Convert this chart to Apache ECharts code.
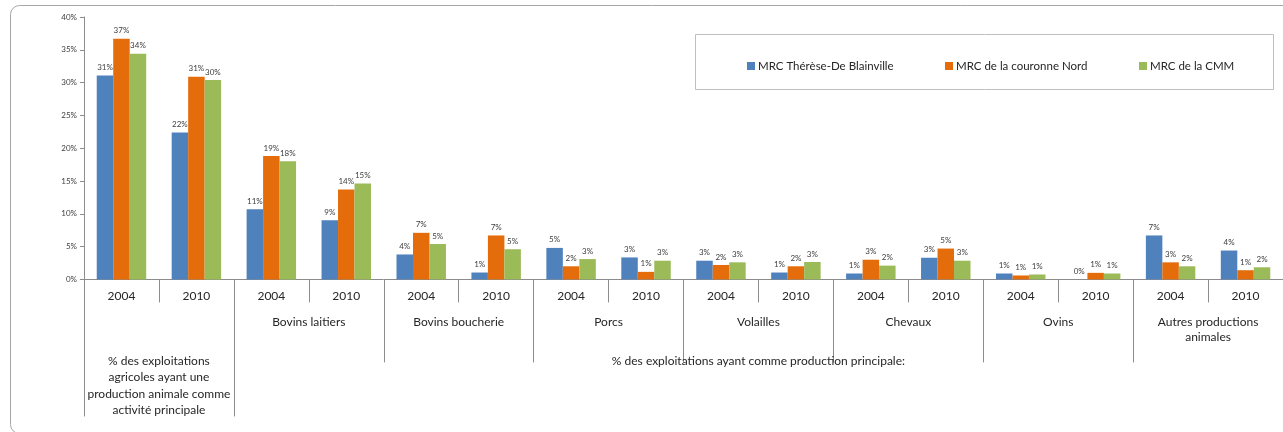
<!DOCTYPE html>
<html>
<head>
<meta charset="utf-8">
<script src="https://cdn.jsdelivr.net/npm/echarts@6/dist/echarts.min.js"></script>
<style>
html,body{margin:0;padding:0;background:#fff;}
#chart{width:1283px;height:432px;}
</style>
</head>
<body>
<div id="chart"></div>
<script>
const years = ['2004','2010','2004','2010','2004','2010','2004','2010','2004','2010','2004','2010','2004','2010','2004','2010'];
const groups = ['', 'Bovins laitiers', 'Bovins boucherie', 'Porcs', 'Volailles', 'Chevaux', 'Ovins', 'Autres productions\nanimales'];
const tier3Label1 = '% des exploitations\nagricoles ayant une\nproduction animale comme\nactivité principale';
const tier3Label2 = '% des exploitations ayant comme production principale:';
const seriesNames = ['MRC Thérèse-De Blainville', 'MRC de la couronne Nord', 'MRC de la CMM'];
const therese  = [31.1, 22.4, 10.7, 9.0, 3.8, 1.05, 4.8, 3.35, 2.85, 1.05, 0.9, 3.3, 0.9, 0, 6.7, 4.4];
const couronne = [36.7, 30.9, 18.8, 13.7, 7.1, 6.7, 2.0, 1.15, 2.2, 2.0, 3.0, 4.7, 0.6, 1.0, 2.6, 1.4];
const cmm      = [34.4, 30.4, 18.0, 14.6, 5.4, 4.6, 3.1, 2.85, 2.6, 2.65, 2.1, 2.85, 0.75, 0.9, 2.0, 1.85];
const yTicks = [0, 5, 10, 15, 20, 25, 30, 35, 40];

const colors = ['#4F81BD', '#E46C0A', '#9BBB59'];
const FONT = 'Lato';
const TXT = '#262626';
const GRID_LINE = '#8c8c8c';

const chart = echarts.init(document.getElementById('chart'), null, {renderer: 'canvas'});

function mkSeries(name, data, color) {
  return {
    name: name, type: 'bar', data: data, xAxisIndex: 0, yAxisIndex: 0,
    barGap: '0%', barCategoryGap: '34%',
    itemStyle: {color: color},
    label: {
      show: true, position: 'top', distance: 4,
      fontFamily: FONT, fontSize: 8, color: '#404040',
      formatter: p => Math.round(p.value) + '%'
    }
  };
}

const option = {
  animation: false,
  graphic: [
    {type: 'rect', shape: {x: 10.5, y: 5.5, width: 1300, height: 428, r: 9},
     style: {fill: 'none', stroke: '#a6a6a6', lineWidth: 1}, z: -10},
    {type: 'rect', shape: {x: 695.5, y: 34.5, width: 578, height: 55},
     style: {fill: '#fff', stroke: '#bfbfbf', lineWidth: 1}, z: -5}
  ],
  legend: seriesNames.map((n, i) => ({
    data: [n], left: [742, 940, 1134][i], top: 55,
    itemWidth: 8, itemHeight: 8, itemGap: 0,
    icon: 'rect',
    textStyle: {fontFamily: FONT, fontSize: 11.5, color: TXT, padding: [0, 0, 0, -2]}
  })),
  grid: {left: 84, top: 17, width: 1201, height: 262.4, containLabel: false},
  xAxis: [
    {
      type: 'category', data: years, position: 'bottom',
      axisLine: {show: true, lineStyle: {color: GRID_LINE, width: 1}},
      axisTick: {show: true, interval: 0, length: 23, lineStyle: {color: GRID_LINE}},
      axisLabel: {interval: 0, margin: 11, fontFamily: FONT, fontSize: 12, color: TXT}
    },
    {
      type: 'category', data: groups, position: 'bottom',
      axisLine: {show: false},
      axisTick: {show: true, interval: 0, length: 83, lineStyle: {color: GRID_LINE}},
      axisLabel: {interval: 0, margin: 35, fontFamily: FONT, fontSize: 12, color: TXT, lineHeight: 15}
    },
    {
      type: 'value', min: 0, max: 16, position: 'bottom',
      axisLine: {show: false},
      splitLine: {show: false},
      axisTick: {show: true, customValues: [0, 2, 16], length: 137, lineStyle: {color: GRID_LINE}},
      axisLabel: {
        customValues: [1, 9], margin: 73, fontFamily: FONT, fontSize: 12, color: TXT, lineHeight: 16.5,
        formatter: v => v === 1 ? tier3Label1 : (v === 9 ? tier3Label2 : '')
      }
    }
  ],
  yAxis: {
    type: 'value', min: 0, max: 40, interval: 5,
    axisLine: {show: true, lineStyle: {color: GRID_LINE}},
    axisTick: {show: true, length: 4, lineStyle: {color: GRID_LINE}},
    splitLine: {show: false},
    axisLabel: {margin: 7, fontFamily: FONT, fontSize: 8, color: '#404040',
      customValues: yTicks, formatter: v => v + '%'}
  },
  series: [
    mkSeries(seriesNames[0], therese, colors[0]),
    mkSeries(seriesNames[1], couronne, colors[1]),
    mkSeries(seriesNames[2], cmm, colors[2])
  ]
};
chart.setOption(option);
</script>
</body>
</html>
